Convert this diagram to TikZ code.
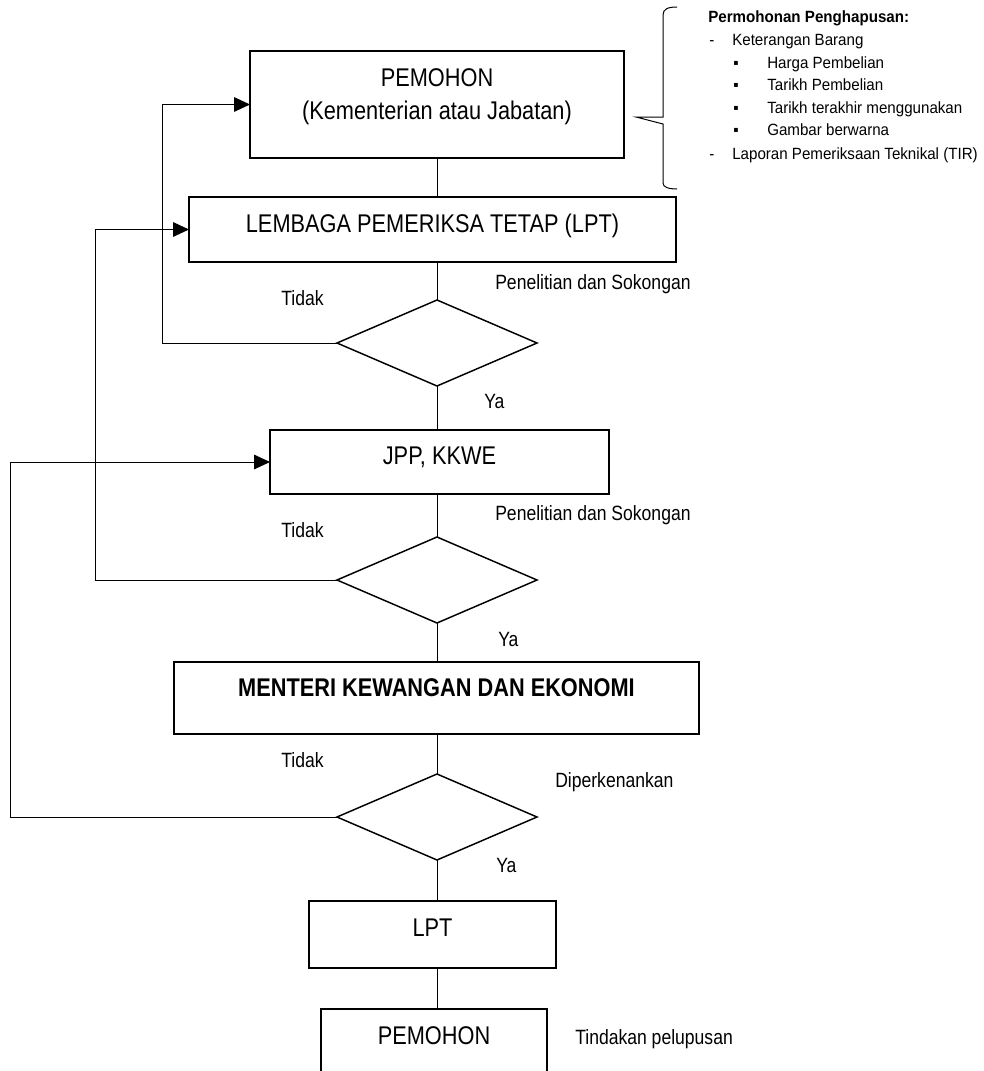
\documentclass[tikz,border=0pt]{standalone}
\usepackage{fontspec}
\setmainfont[FakeStretch=0.93]{Liberation Sans}
\newfontfamily\narrowfont[FakeStretch=0.85]{Liberation Sans}
\usetikzlibrary{shapes.geometric,arrows.meta}
\newcommand\PX{0.75pt}
\begin{document}
\begin{tikzpicture}[x=0.75pt,y=-0.75pt,
 box/.style={draw,line width=1.2pt,rectangle,inner sep=0pt,outer sep=0pt},
 dia/.style={draw,line width=1.1pt,diamond,inner sep=0pt,outer sep=0pt,minimum width=200*\PX,minimum height=86*\PX},
 big/.style={font=\narrowfont\fontsize{19.2}{23}\selectfont,inner sep=0pt,anchor=base},
 lbl/.style={font=\narrowfont\fontsize{15.5}{18}\selectfont,inner sep=0pt,anchor=base west},
 sml/.style={font=\fontsize{12.2}{14}\selectfont,inner sep=0pt,anchor=base west},
 con/.style={line width=0.75pt},
 arr/.style={line width=0.75pt,-{Triangle[length=12pt,width=11pt]}},
]
\clip (0,0) rectangle (984,1071);
% boxes
\node[box,minimum width=374*\PX,minimum height=107*\PX] (pem1) at (437,104.5) {};
\node[box,minimum width=487*\PX,minimum height=65*\PX] (lpt) at (432.5,229.5) {};
\node[dia] (d1) at (437,343) {};
\node[box,minimum width=339*\PX,minimum height=64*\PX] (jpp) at (439.5,462) {};
\node[dia] (d2) at (437,580) {};
\node[box,minimum width=525*\PX,minimum height=72*\PX] (men) at (436.5,698) {};
\node[dia] (d3) at (437,817) {};
\node[box,minimum width=247*\PX,minimum height=67*\PX] (lpt2) at (432.5,934.5) {};
\node[box,minimum width=226*\PX,minimum height=90*\PX] (pem2) at (434,1054) {};
% box texts
\node[big] (pem1a) at (437,86.2) {PEMOHON};
\node[big] (pem1b) at (437,119.2) {(Kementerian atau Jabatan)};
\node[big] (lptt) at (432.5,232.2) {LEMBAGA PEMERIKSA TETAP (LPT)};
\node[big] (jppt) at (439.5,464.2) {JPP, KKWE};
\node[big] (ment) at (436.5,696.2) {\bfseries MENTERI KEWANGAN DAN EKONOMI};
\node[big] (lpt2t) at (432.5,936.2) {LPT};
\node[big] (pem2t) at (434,1044.2) {PEMOHON};
% main flow
\draw[con] (pem1.south) -- (pem1.south |- lpt.north);
\draw[con] (d1.north |- lpt.south) -- (d1.north);
\draw[con] (d1.south) -- (d1.south |- jpp.north);
\draw[con] (d2.north |- jpp.south) -- (d2.north);
\draw[con] (d2.south) -- (d2.south |- men.north);
\draw[con] (d3.north |- men.south) -- (d3.north);
\draw[con] (d3.south) -- (d3.south |- lpt2.north);
\draw[con] (d3.south |- lpt2.south) -- (d3.south |- pem2.north);
% feedback loops
\coordinate (k1) at (162,343);
\coordinate (k2) at (95,580);
\coordinate (k3) at (10,817);
\draw[arr] (d1.west) -- (k1) |- (pem1.west);
\draw[arr] (d2.west) -- (k2) |- (lpt.west);
\draw[arr] (d3.west) -- (k3) |- (jpp.west);
% labels
\node[lbl] (t1) at (281,305.4) {Tidak};
\node[lbl] (t2) at (281,537.4) {Tidak};
\node[lbl] (t3) at (281,767.4) {Tidak};
\node[lbl] (y1) at (484,408) {Ya};
\node[lbl] (y2) at (498,646.5) {Ya};
\node[lbl] (y3) at (496,872) {Ya};
\node[lbl] (p1) at (495,289.4) {Penelitian dan Sokongan};
\node[lbl] (p2) at (495,520.4) {Penelitian dan Sokongan};
\node[lbl] (dk) at (555,787.4) {Diperkenankan};
\node[lbl] (tp) at (575,1044.4) {Tindakan pelupusan};
% brace
\draw[con] (677,7) .. controls (668,7) and (663,9) .. (663,15) -- (663,117) -- (636,117) -- (663,124) -- (663,183) .. controls (663,187) and (668,189) .. (677,189);
% note list
\node[sml] (h) at (708,22.8) {\bfseries Permohonan Penghapusan:};
\node[sml] (da) at (709,45.8) {-};
\node[sml] (la) at (732,45.8) {Keterangan Barang};
\node[sml] (b1) at (733,68.8) {▪};
\node[sml] (i1) at (767,68.8) {Harga Pembelian};
\node[sml] (b2) at (733,90.8) {▪};
\node[sml] (i2) at (767,90.8) {Tarikh Pembelian};
\node[sml] (b3) at (733,113.8) {▪};
\node[sml] (i3) at (767,113.8) {Tarikh terakhir menggunakan};
\node[sml] (b4) at (733,135.8) {▪};
\node[sml] (i4) at (767,135.8) {Gambar berwarna};
\node[sml] (db) at (709,159.8) {-};
\node[sml] (lb) at (732,159.8) {Laporan Pemeriksaan Teknikal (TIR)};
\end{tikzpicture}
\end{document}
